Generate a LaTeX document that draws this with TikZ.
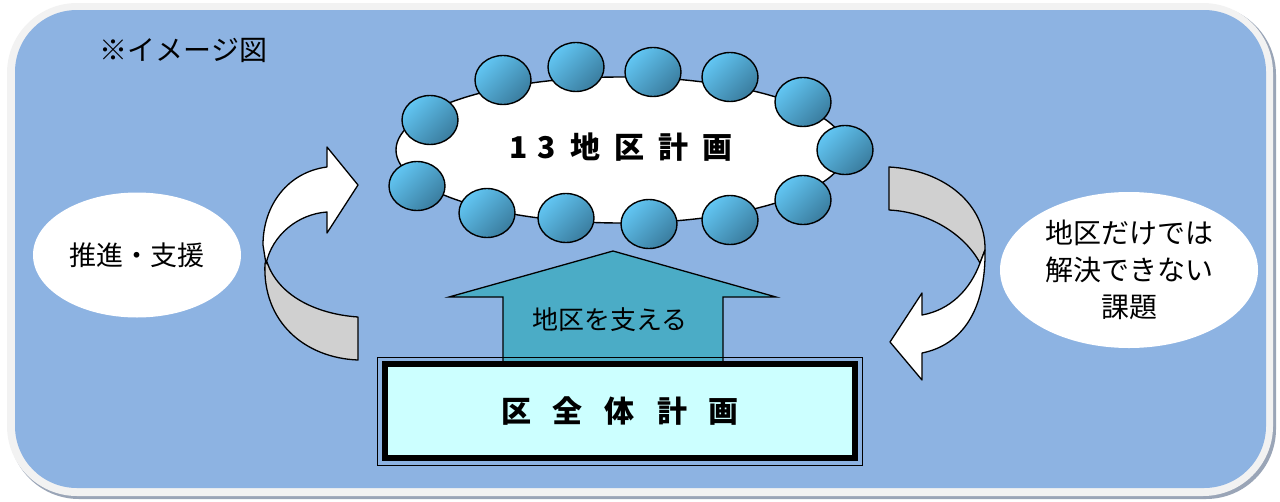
\documentclass[tikz,border=0pt]{standalone}
\usepackage{fontspec}
\newfontfamily\jp{Noto Sans CJK JP}
\usetikzlibrary{shapes.geometric}
\definecolor{bgblue}{HTML}{8DB3E2}
\definecolor{bgrim}{HTML}{F2F2F2}
\definecolor{bgshadow}{HTML}{9AA5B7}
\definecolor{beadlight}{HTML}{62C6F3}
\definecolor{beaddark}{HTML}{3A7C9E}
\definecolor{backgray}{HTML}{D0D0D0}
\definecolor{uparrow}{HTML}{4BACC6}
\definecolor{planbox}{HTML}{CCFFFF}
\tikzset{
  bead/.style={ellipse, draw, line width=1.4pt, minimum width=56, minimum height=49,
    inner sep=0pt, top color=beadlight, bottom color=beaddark, shading angle=45},
  bubble/.style={ellipse, fill=white, inner sep=0pt},
  band/.style={draw, line width=1.3pt, line join=round},
  jtext/.style={font=\jp\fontsize{#1}{#1}\selectfont},
  jbold/.style={font=\jp\bfseries\fontsize{#1}{#1}\selectfont},
}
\begin{document}
\begin{tikzpicture}[x=1pt, y=-1pt]
  \useasboundingbox (0,0) rectangle (1280,501);
  % background panel
  \fill[bgshadow, rounded corners=70pt] (9,5) rectangle (1276,499);
  \fill[bgrim, rounded corners=70pt] (7,3) rectangle (1273,496);
  \fill[bgblue, rounded corners=62pt] (15,10) rectangle (1266,488);

  \node[jtext=28, anchor=west] (title) at (96,50){※イメージ図};

  % district plans ring
  \node[ellipse, draw, fill=white, line width=1.4pt, minimum width=450, minimum height=146] (ring) at (621,150){};
  \node[jbold=30] (dist) at (621,147){1\kern10pt 3\kern15pt 地\kern14pt 区\kern14pt 計\kern14pt 画};

  \node[bead] (c1)  at (430,120){};
  \node[bead] (c2)  at (503,80){};
  \node[bead] (c3)  at (576,67){};
  \node[bead] (c4)  at (653,72){};
  \node[bead] (c5)  at (730,77){};
  \node[bead] (c6)  at (803,102){};
  \node[bead] (c7)  at (845,150){};
  \node[bead] (c8)  at (803,200){};
  \node[bead] (c9)  at (730,220){};
  \node[bead] (c10) at (649,224){};
  \node[bead] (c11) at (566,218){};
  \node[bead] (c12) at (487,213){};
  \node[bead] (c13) at (417,186){};

  % side bubbles
  \node[bubble, minimum width=208, minimum height=125, jtext=27] (push) at (137,255){推進・支援};
  \node[bubble, minimum width=258, minimum height=156, align=center,
        font=\jp\fontsize{28}{37}\selectfont] (issue) at (1129,270){地区だけでは\\解決できない\\課題};

  % curved arrows
  \draw[band, fill=backgray] (265,263) .. controls (262,322) and (305,358) .. (358,360)
    -- (358,317) .. controls (315,314) and (278,295) .. (267,262) -- cycle;
  \draw[band, fill=white] (266,264) .. controls (272,235) and (298,214) .. (327,212)
    -- (327,233) -- (358,185) -- (327,147) -- (327,167)
    .. controls (288,172) and (263,205) .. (263,245) -- cycle;

  \draw[band, fill=backgray] (889,167) .. controls (945,170) and (986,205) .. (985,250)
    -- (980,263) .. controls (965,235) and (930,212) .. (889,210) -- cycle;
  \draw[band, fill=white] (980,263) .. controls (970,290) and (950,310) .. (922,315)
    -- (922,293) -- (890,342) -- (922,380) -- (922,353)
    .. controls (962,345) and (986,310) .. (985,250) -- cycle;

  % support arrow
  \draw[band, fill=uparrow, line join=miter] (503,362) -- (503,297) -- (449,297) -- (613,251)
    -- (776,297) -- (723,297) -- (723,362);
  \node[jtext=26] (support) at (610,320){地区を支える};

  % whole ward plan
  \node[draw, line width=1pt, minimum width=485, minimum height=108] (frame) at (620,411){};
  \node[draw, line width=6pt, fill=planbox, minimum width=470, minimum height=94,
        jbold=30] (whole) at (620,411){区\kern22pt 全\kern22pt 体\kern22pt 計\kern22pt 画};
\end{tikzpicture}
\end{document}
